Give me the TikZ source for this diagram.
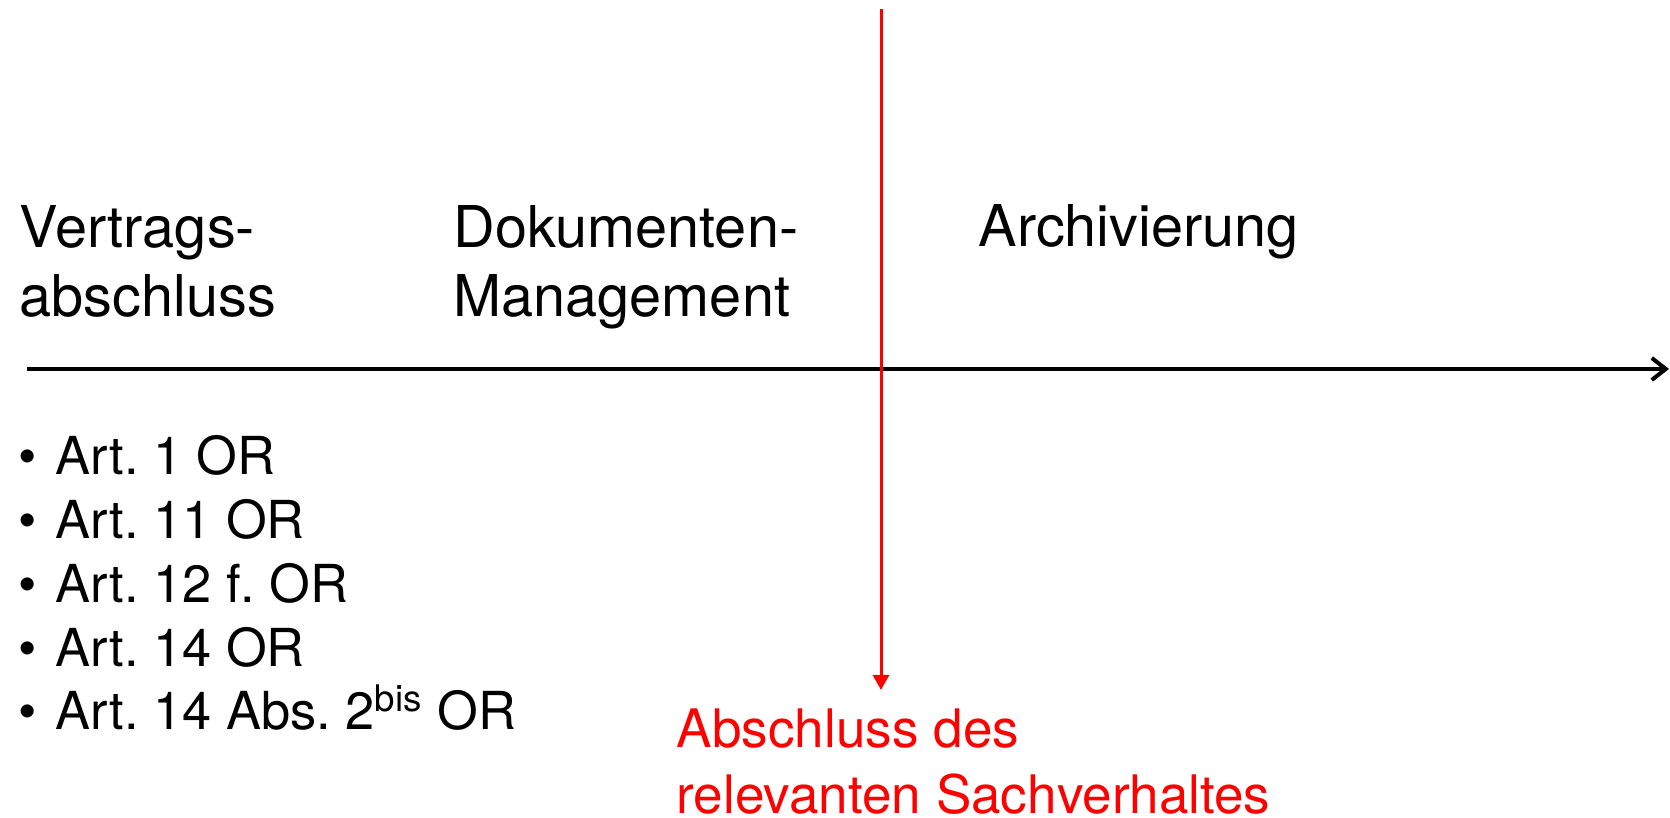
\documentclass[tikz,border=0pt]{standalone}
\usepackage{fontspec}
\setmainfont{TeX Gyre Heros}
\usepackage{tikz}
\usetikzlibrary{arrows.meta}
\frenchspacing
\newcommand{\bul}{\makebox[0.37cm][l]{\textbullet}}

\begin{document}
\begin{tikzpicture}[
  phase/.style={anchor=base west, inner sep=0pt, align=left, font=\fontsize{16.4}{19.9}\selectfont},
  items/.style={anchor=base west, inner sep=0pt, align=left, font=\fontsize{14.9}{18.2}\selectfont},
  note/.style={anchor=base west, inner sep=0pt, align=left, text=red, font=\fontsize{15.1}{18.8}\selectfont}]
\useasboundingbox (0,0) rectangle (16.7,8.18);%size of the page
\coordinate (axisstart) at (0.27,4.49);
\coordinate (axisend) at (16.69,4.49);
\coordinate (cuttop) at (8.81,8.09);
\coordinate (cutend) at (8.81,1.28);
\draw [line width=0.04cm,color=black,-{Straight Barb[length=0.14cm,width=0.22cm]}] (axisstart)--(axisend);
\draw [line width=0.03cm,color=red,-{Triangle[length=0.15cm,width=0.16cm]}] (cuttop)--(cutend);
% base anchor sits on the last line
\node [phase] (vertrag) at (0.19,5.01) {Vertrags-\\abschluss};
\node [phase] (dokument) at (4.53,5.01) {Dokumenten-\\Management};
\node [phase] (archiv) at (9.78,5.71) {Archivierung};
\node [items] (artikel) at (0.18,0.88) {\bul Art. 1 OR\\\bul Art. 11 OR\\\bul Art. 12 f. OR\\\bul Art. 14 OR\\\bul Art. 14 Abs. 2\textsuperscript{bis} OR};
\node [note] (abschluss) at (6.76,0.04) {Abschluss des\\relevanten Sachverhaltes};
\end{tikzpicture}
\end{document}
